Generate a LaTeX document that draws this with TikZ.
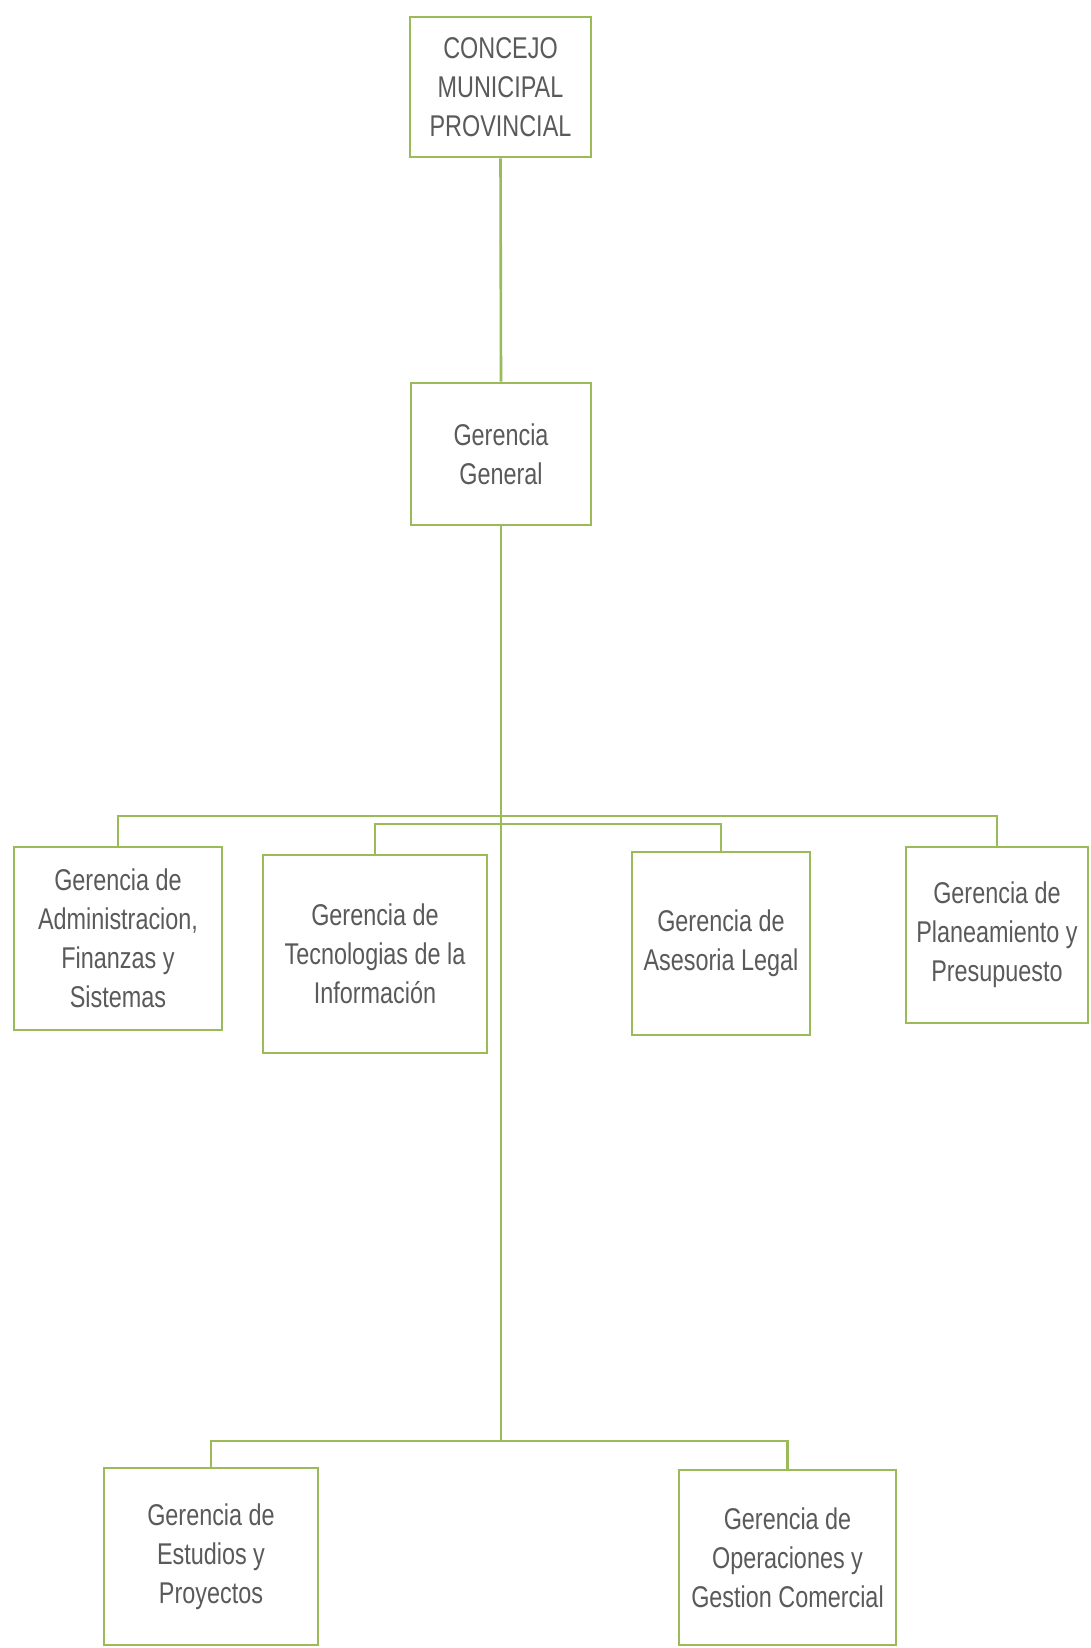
\documentclass[tikz,border=0pt]{standalone}
\usepackage{fontspec}
\setmainfont{Liberation Sans}[FakeStretch=0.78]
\definecolor{boxgreen}{HTML}{9BBB59}
\definecolor{txtgray}{HTML}{5A5A5A}
\begin{document}
\begin{tikzpicture}[x=1pt,y=-1pt,
  orgbox/.style={draw=boxgreen, line width=2.6pt, fill=white, inner sep=0pt,
    align=center, text=txtgray, font=\fontsize{30}{39}\selectfont},
  link/.style={draw=boxgreen, line width=2.6pt}]
\useasboundingbox (0,0) rectangle (1090,1648);
\fill[white] (0,0) rectangle (1090,1648);
% boxes: centre, width, height
\node[orgbox, minimum width=181pt, minimum height=140pt] (concejo) at (500.5,87) {CONCEJO\\MUNICIPAL\\PROVINCIAL};
\node[orgbox, minimum width=180pt, minimum height=142pt] (general) at (501,454) {Gerencia\\General};
\node[orgbox, minimum width=208pt, minimum height=183pt] (admin) at (118,938.5) {Gerencia de\\Administracion,\\Finanzas y\\Sistemas};
\node[orgbox, minimum width=224pt, minimum height=198pt] (tec) at (375,954) {Gerencia de\\Tecnologias de la\\Información};
\node[orgbox, minimum width=178pt, minimum height=183pt] (ases) at (721,943.5) {Gerencia de\\Asesoria Legal};
\node[orgbox, minimum width=182pt, minimum height=176pt] (plan) at (997,935) {Gerencia de\\Planeamiento y\\Presupuesto};
\node[orgbox, minimum width=214pt, minimum height=177pt] (est) at (211,1556.5) {Gerencia de\\Estudios y\\Proyectos};
\node[orgbox, minimum width=217pt, minimum height=175pt] (ope) at (787.5,1557.5) {Gerencia de\\Operaciones y\\Gestion Comercial};
% junctions
\coordinate (bus1) at (501,816);
\coordinate (bus2) at (501,824);
\coordinate (bus3) at (501,1441);
% connectors
\draw[link] (concejo.south) -- (general.north);
\draw[link] (general.south) -- (bus3);
\draw[link] (admin.north) |- (bus1) -| (plan.north);
\draw[link] (tec.north) |- (bus2) -| (ases.north);
\draw[link] (est.north) |- (bus3) -| (ope.north);
\end{tikzpicture}
\end{document}
